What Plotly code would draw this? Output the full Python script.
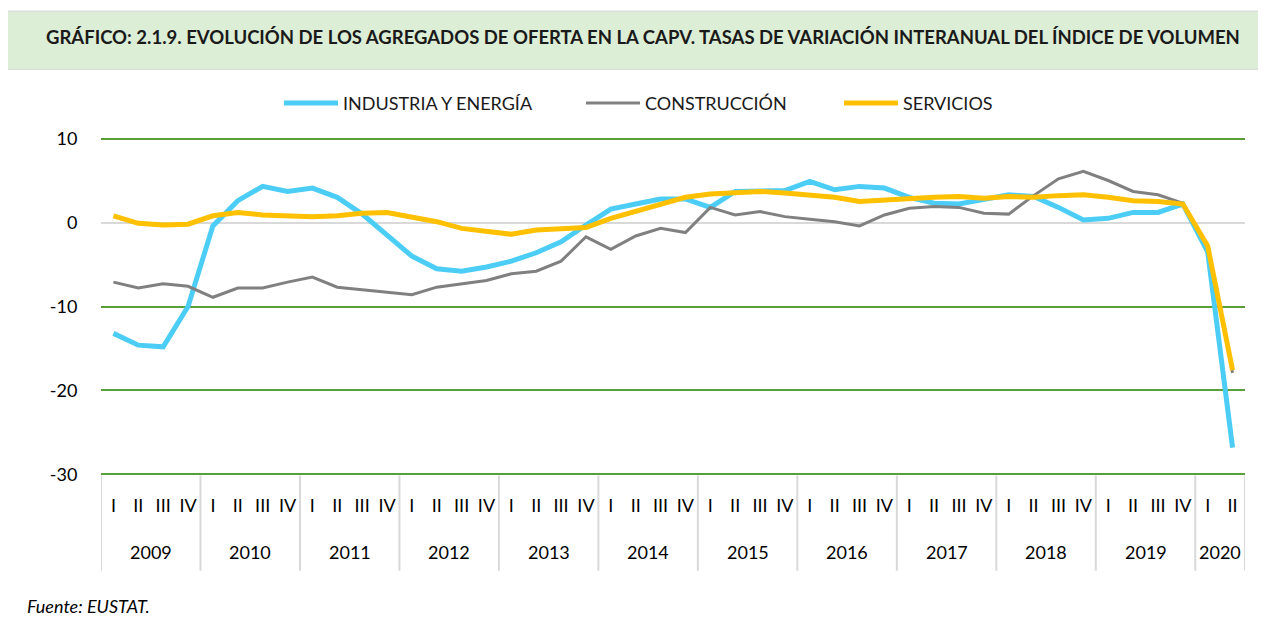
import plotly.graph_objects as go

years = ["2009", "2010", "2011", "2012", "2013", "2014", "2015", "2016",
         "2017", "2018", "2019", "2020"]
quarter_labels = ["I", "II", "III", "IV"]
y_ticks = [-30, -20, -10, 0, 10]
y_tick_text = ["-30", "-20", "-10", "0", "10"]

industria = [-13.2, -14.6, -14.8, -10.0,
             -0.4, 2.6, 4.3, 3.7,
             4.1, 3.0, 1.0, -1.5,
             -4.0, -5.5, -5.8, -5.3,
             -4.6, -3.6, -2.3, -0.3,
             1.6, 2.2, 2.8, 2.8,
             1.8, 3.7, 3.7, 3.8,
             4.9, 3.9, 4.3, 4.1,
             3.0, 2.3, 2.2, 2.7,
             3.3, 3.1, 1.8, 0.3,
             0.5, 1.2, 1.2, 2.2,
             -3.5, -26.8]
construccion = [-7.1, -7.8, -7.3, -7.6,
                -8.9, -7.8, -7.8, -7.1,
                -6.5, -7.7, -8.0, -8.3,
                -8.6, -7.7, -7.3, -6.9,
                -6.1, -5.8, -4.6, -1.7,
                -3.2, -1.6, -0.7, -1.2,
                1.8, 0.9, 1.3, 0.7,
                0.4, 0.1, -0.4, 0.9,
                1.7, 1.9, 1.8, 1.1,
                1.0, 3.2, 5.2, 6.1,
                5.0, 3.7, 3.3, 2.3,
                -2.8, -17.9]
servicios = [0.8, -0.1, -0.3, -0.2,
             0.8, 1.2, 0.9, 0.8,
             0.7, 0.8, 1.1, 1.2,
             0.7, 0.1, -0.7, -1.0,
             -1.4, -0.9, -0.7, -0.6,
             0.5, 1.3, 2.2, 3.0,
             3.4, 3.5, 3.7, 3.5,
             3.2, 3.0, 2.5, 2.7,
             2.9, 3.0, 3.1, 2.9,
             3.1, 3.0, 3.2, 3.3,
             3.0, 2.6, 2.5, 2.2,
             -2.8, -17.6]

n = len(industria)
xi = list(range(n))
q_text = [quarter_labels[i % 4] for i in range(n)]
year_of = [years[i // 4] for i in range(n)]

FONT = "Lato"
OFF = 8  # page body margin

YMIN, YMAX, YPAD = -30, 10, 0.3
UNIT = (474 - 139) / (YMAX - YMIN)

W, H = 1266 - OFF, 617 - OFF
PL, PR = 101, 1245
PT = 139 - YPAD * UNIT
PB = 474 + YPAD * UNIT
L = PL - OFF
R = W - (PR - OFF)
T = PT - OFF
B = H - (PB - OFF)
pw = PR - PL
ph = PB - PT


def px2x(px):
    return (px - PL) / pw


def py2y(py):
    return (PB - py) / ph


fig = go.Figure()
fig.add_trace(go.Scatter(x=xi, y=industria, mode="lines", name="INDUSTRIA Y ENERGÍA",
                         line=dict(color="#4CCDF6", width=5), legend="legend"))
fig.add_trace(go.Scatter(x=xi, y=construccion, mode="lines", name="CONSTRUCCIÓN",
                         line=dict(color="#808080", width=3), legend="legend2"))
fig.add_trace(go.Scatter(x=xi, y=servicios, mode="lines", name="SERVICIOS",
                         line=dict(color="#FFC000", width=5), legend="legend3"))

leg_common = dict(orientation="h", xanchor="left", yanchor="middle", y=py2y(104),
                  font=dict(size=18, family=FONT, color="#1a1a1a"), itemwidth=54,
                  bgcolor="rgba(0,0,0,0)")

shapes = [
    dict(type="rect", xref="paper", yref="paper", x0=px2x(7), x1=px2x(1270),
         y0=py2y(70), y1=py2y(12), fillcolor="#DDEED6", line=dict(color="#D6D6D6", width=1),
         layer="below"),
    dict(type="line", xref="paper", yref="paper", x0=px2x(7), x1=px2x(7),
         y0=py2y(12), y1=py2y(620), line=dict(color="#D9D9D9", width=2)),
]
for k in range(len(years) + 1):
    xv = min(4 * k, n) - 0.5
    shapes.append(dict(type="line", xref="x", yref="paper", x0=xv, x1=xv,
                       y0=py2y(475), y1=py2y(570), line=dict(color="#D9D9D9", width=2)))

annotations = [
    dict(text="<b>GRÁFICO: 2.1.9. EVOLUCIÓN DE LOS AGREGADOS DE OFERTA EN LA CAPV. TASAS DE VARIACIÓN INTERANUAL DEL ÍNDICE DE VOLUMEN</b>",
         xref="paper", yref="paper", x=px2x(643), y=py2y(38), xanchor="center", yanchor="middle",
         showarrow=False, font=dict(size=18.5, family=FONT, color="#1a1a1a")),
    dict(text="<i>Fuente: EUSTAT.</i>", xref="paper", yref="paper", x=px2x(25), y=py2y(605),
         xanchor="left", yanchor="middle", showarrow=False, font=dict(size=18, family=FONT)),
]
for yr in years:
    idx = [i for i in range(n) if year_of[i] == yr]
    annotations.append(dict(text=yr, xref="x", yref="paper", x=sum(idx) / len(idx),
                            y=py2y(551), xanchor="center", yanchor="middle", showarrow=False,
                            font=dict(size=18, family=FONT, color="#000000")))

fig.update_layout(
    width=W, height=H,
    margin=dict(l=L, r=R, t=T, b=B, pad=0),
    paper_bgcolor="white", plot_bgcolor="white",
    font=dict(family=FONT, color="#000000", size=18),
    showlegend=True,
    legend=dict(leg_common, x=px2x(279)),
    legend2=dict(leg_common, x=px2x(581)),
    legend3=dict(leg_common, x=px2x(839)),
    xaxis=dict(range=[-0.5, n - 0.5], tickvals=xi, ticktext=q_text, showgrid=False,
               showline=False, zeroline=False, ticks="", ticklabelstandoff=16,
               tickfont=dict(size=18, family=FONT, color="#000000")),
    yaxis=dict(range=[YMIN - YPAD, YMAX + YPAD], tickvals=y_ticks, ticktext=y_tick_text,
               showgrid=True, gridcolor="#5A9E3A", gridwidth=2, zeroline=True,
               zerolinecolor="#D9D9D9", zerolinewidth=2, showline=False,
               ticks="outside", ticklen=19, tickcolor="rgba(0,0,0,0)",
               tickfont=dict(size=18, family=FONT, color="#000000")),
    shapes=shapes,
    annotations=annotations,
)

fig.write_html("out.html")
